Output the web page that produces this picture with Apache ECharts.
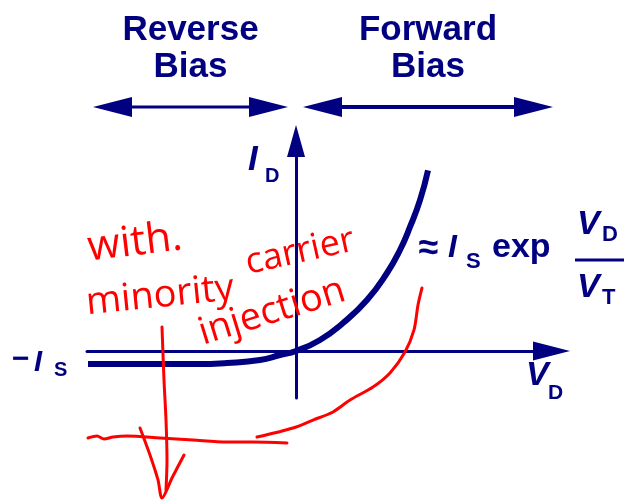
<!DOCTYPE html>
<html>
<head>
<meta charset="utf-8">
<script src="https://cdn.jsdelivr.net/npm/echarts@6/dist/echarts.min.js"></script>
<style>
html, body { margin: 0; padding: 0; background: #ffffff; }
#chart { width: 624px; height: 500px; }
</style>
</head>
<body>
<div id="chart"></div>
<script>
// Diode I–V characteristic. V_D is in units of V_T, I_D in units of I_S.
const diodeV = [-4.16, -2.0, -1.38, -0.72, -0.32, 0, 0.48, 0.94, 1.42, 1.82, 2.08, 2.28, 2.48, 2.64];
const diodeI = [-1, -1, -0.92, -0.69, -0.31, 0, 0.85, 2.15, 3.92, 6.0, 7.77, 9.54, 11.6, 13.9];

// Bias regions shown above the plot (start V, end V) and their level on the I axis
const biasLabels = ['Reverse\nBias', 'Forward\nBias'];
const biasStart = [-4.06, 0.14];
const biasEnd = [-0.16, 5.14];
const biasLevel = 18.77;

// Red pen notes: [V, I] pairs
const penDown = [[-2.68, 1.85], [-2.64, -2.23], [-2.6, -5.31], [-2.58, -8.38], [-2.6, -10.69]];
const penArrowHead = [[-3.12, -5.92], [-2.92, -8.0], [-2.76, -9.92], [-2.68, -11.31], [-2.48, -9.77], [-2.24, -8.0]];
const penBase = [[-4.16, -6.69], [-3.98, -6.54], [-3.84, -6.77], [-3.66, -6.62], [-3.38, -6.54], [-2.72, -6.69], [-2.06, -6.85], [-1.38, -7.0], [-0.86, -7.0], [-0.18, -7.08]];
const penCurve = [[2.52, 4.85], [2.44, 3.54], [2.36, 1.62], [2.18, -0.08], [1.88, -1.69], [1.54, -2.77], [1.08, -3.77], [0.74, -4.69], [0.34, -5.31], [-0.06, -5.92], [-0.78, -6.62]];
const penWords = ['with.', 'minority', 'carrier', 'injection'];

const navy = '#000080';
const red = '#ff0000';
const sans = '"Liberation Sans", Arial, sans-serif';
const hand = '"Open Sans", "DejaVu Sans", sans-serif';

function txt(text, x, y, font, color, align, extra) {
  return Object.assign({
    type: 'text', x: x, y: y, z: 20, silent: true,
    style: { text: text, font: font, fill: color, align: align || 'left', verticalAlign: 'middle',
             textAlign: align || 'left', textVerticalAlign: 'middle' }
  }, extra || {});
}

function penLine(points) {
  return {
    type: 'line', data: points, clip: false, silent: true, smooth: 0.3,
    symbol: 'none', z: 10,
    lineStyle: { color: red, width: 3, cap: 'round', join: 'round' }
  };
}

const chart = echarts.init(document.getElementById('chart'), null, { renderer: 'canvas' });

const option = {
  animation: false,
  backgroundColor: '#ffffff',
  grid: { left: 87, right: 72.5, top: 141, bottom: 102, containLabel: false, outerBoundsMode: 'none' },
  xAxis: {
    type: 'value', min: -4.18, max: 5.11,
    axisLine: { show: true, onZero: true, symbol: ['none', 'triangle'], symbolSize: [19, 37],
                lineStyle: { color: navy, width: 3 } },
    axisTick: { show: false }, axisLabel: { show: false }, splitLine: { show: false }
  },
  yAxis: {
    type: 'value', min: -3.615, max: 16.154,
    axisLine: { show: true, onZero: true, symbol: ['none', 'triangle'], symbolSize: [18, 32],
                lineStyle: { color: navy, width: 3 } },
    axisTick: { show: false }, axisLabel: { show: false }, splitLine: { show: false }
  },
  series: [
    {
      type: 'line', name: 'I_D',
      data: diodeV.map((v, i) => [v, diodeI[i]]),
      smooth: 0.5, symbol: 'none', silent: true, z: 5,
      lineStyle: { color: navy, width: 6 }
    },
    {
      type: 'custom', name: 'bias', coordinateSystem: 'cartesian2d', clip: false, silent: true,
      data: biasStart.map((s, i) => [s, biasEnd[i], biasLevel]),
      encode: { x: [0, 1], y: 2 },
      renderItem: function (params, api) {
        const a = api.coord([api.value(0), api.value(2)]);
        const b = api.coord([api.value(1), api.value(2)]);
        const headLen = 39, headHalf = 10;
        const shaft = params.dataIndex === 0 ? 3 : 4;
        const lines = biasLabels[params.dataIndex].split('\n');
        const midX = (a[0] + b[0]) / 2;
        const font = 'bold 35px ' + sans;
        return {
          type: 'group',
          children: [
            { type: 'line', shape: { x1: a[0] + headLen - 4, y1: a[1], x2: b[0] - headLen + 4, y2: b[1] },
              style: { stroke: navy, lineWidth: shaft } },
            { type: 'polygon', shape: { points: [[a[0], a[1]], [a[0] + headLen, a[1] - headHalf], [a[0] + headLen, a[1] + headHalf]] },
              style: { fill: navy } },
            { type: 'polygon', shape: { points: [[b[0], b[1]], [b[0] - headLen, b[1] - headHalf], [b[0] - headLen, b[1] + headHalf]] },
              style: { fill: navy } },
            { type: 'text', x: midX, y: a[1] - 76.5,
              style: { text: lines[0], font: font, fill: navy, align: 'center', verticalAlign: 'middle', textAlign: 'center', textVerticalAlign: 'middle' } },
            { type: 'text', x: midX, y: a[1] - 39.5,
              style: { text: lines[1], font: font, fill: navy, align: 'center', verticalAlign: 'middle', textAlign: 'center', textVerticalAlign: 'middle' } }
          ]
        };
      }
    },
    penLine(penDown),
    penLine(penArrowHead),
    penLine(penBase),
    penLine(penCurve)
  ],
  graphic: [
    // axis names
    txt('I', 248, 160.5, 'italic bold 35px ' + sans, navy),
    txt('D', 265, 176, 'bold 20px ' + sans, navy),
    txt('V', 526, 376, 'italic bold 34px ' + sans, navy),
    txt('D', 548, 393.5, 'bold 21px ' + sans, navy),
    // saturation level
    txt('\u2212', 12, 360, 'bold 30px ' + sans, navy),
    txt('I', 34, 363, 'italic bold 29px ' + sans, navy),
    txt('S', 54, 370, 'bold 20px ' + sans, navy),
    // forward-bias approximation
    txt('\u2248', 428.5, 249, 'bold 36px ' + sans, navy, 'center'),
    txt('I', 448, 248.5, 'italic bold 32px ' + sans, navy),
    txt('S', 466, 262, 'bold 22px ' + sans, navy),
    txt('exp', 492, 248, 'bold 34px ' + sans, navy),
    txt('V', 577, 225, 'italic bold 34px ' + sans, navy),
    txt('D', 602, 235, 'bold 22px ' + sans, navy),
    { type: 'rect', z: 20, silent: true, shape: { x: 575, y: 258.5, width: 60, height: 3 }, style: { fill: navy } },
    txt('V', 577, 287.5, 'italic bold 34px ' + sans, navy),
    txt('T', 602, 298, 'bold 22px ' + sans, navy),
    // handwritten notes
    txt(penWords[0], 135, 243, '42px ' + hand, red, 'center', { rotation: 0.12 }),
    txt(penWords[1], 160, 296, '38px ' + hand, red, 'center', { rotation: 0.1 }),
    txt(penWords[2], 300, 252, '36px ' + hand, red, 'center', { rotation: 0.22 }),
    txt(penWords[3], 272, 312, '38px ' + hand, red, 'center', { rotation: 0.3 })
  ]
};

chart.setOption(option);
</script>
</body>
</html>
